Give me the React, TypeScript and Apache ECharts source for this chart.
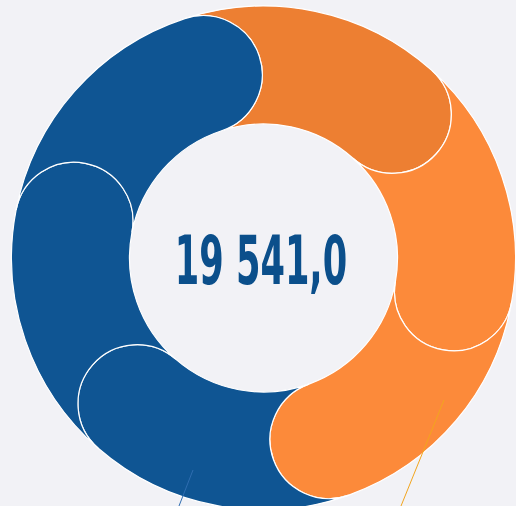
import React, { useEffect, useRef } from "react";
import * as echarts from "echarts";

const categories = ["Сегмент 1", "Сегмент 2", "Сегмент 3", "Сегмент 4", "Сегмент 5", "Сегмент 6"];
const values = [3262, 3159, 3262, 3300, 3257, 3301];
const colors = ["#ED7F32", "#FC8A3A", "#FC8A3A", "#0F5593", "#0F5593", "#0F5593"];

function formatTotal(v: number): string {
  const [int, dec] = v.toFixed(1).split(".");
  return int.replace(/\B(?=(\d{3})+(?!\d))/g, " ") + "," + dec;
}

export default function App() {
  const ref = useRef<HTMLDivElement>(null);
  useEffect(() => {
    if (!ref.current) return;
    const chart = echarts.init(ref.current, null, { renderer: "svg" });
    const total = values.reduce((a, b) => a + b, 0);
    let acc = 0;
    const segData = values.map((v, i) => {
      const s = acc;
      acc += v;
      return { name: categories[i], value: [s, acc, i] };
    });

    const renderItem = (params: any, api: any) => {
      const a0 = api.value(0);
      const a1 = api.value(1);
      const idx = api.value(2);
      const cs = params.coordSys;
      const R = cs.r;
      const r0 = cs.r0;
      const h = (R - r0) / 2;
      const po0 = api.coord([1, a0]);
      const po1 = api.coord([1, a1]);
      const pi0 = api.coord([0, a0]);
      const pi1 = api.coord([0, a1]);
      const large = ((a1 - a0) / total) * 360 > 180 ? 1 : 0;
      const d =
        `M ${po0[0]} ${po0[1]} ` +
        `A ${R} ${R} 0 ${large} 1 ${po1[0]} ${po1[1]} ` +
        `A ${h} ${h} 0 0 1 ${pi1[0]} ${pi1[1]} ` +
        `A ${r0} ${r0} 0 ${large} 0 ${pi0[0]} ${pi0[1]} ` +
        `A ${h} ${h} 0 0 0 ${po0[0]} ${po0[1]} Z`;
      return {
        type: "path",
        shape: { pathData: d },
        style: { fill: colors[idx], stroke: "#FFFFFF", lineWidth: 1.2 },
      };
    };

    chart.setOption({
      animation: false,
      backgroundColor: "#F2F2F6",
      polar: { center: [263.5, 258], radius: [134, 252] },
      angleAxis: {
        type: "value",
        min: 0,
        max: total,
        startAngle: 108.2,
        clockwise: true,
        show: false,
      },
      radiusAxis: { type: "value", min: 0, max: 1, show: false },
      series: [
        {
          type: "custom",
          coordinateSystem: "polar",
          renderItem,
          data: segData,
          silent: true,
        },
      ],
      graphic: [
        {
          type: "line",
          z: 100,
          shape: { x1: 193, y1: 470, x2: 179, y2: 506 },
          style: { stroke: "#2F6DB0", lineWidth: 1 },
        },
        {
          type: "line",
          z: 100,
          shape: { x1: 444, y1: 400, x2: 401, y2: 506 },
          style: { stroke: "#F2A51E", lineWidth: 1 },
        },
        {
          type: "text",
          z: 100,
          x: 261,
          y: 261,
          scaleX: 0.575,
          style: {
            text: formatTotal(total),
            font: 'bold 68px "DejaVu Sans Condensed", sans-serif',
            fill: "#0B4F8B",
            textAlign: "center",
            textVerticalAlign: "middle",
          },
        },
      ],
    });
    return () => chart.dispose();
  }, []);
  return (
    <div
      ref={ref}
      style={{ position: "fixed", left: 0, top: 0, width: 516, height: 506 }}
    />
  );
}
